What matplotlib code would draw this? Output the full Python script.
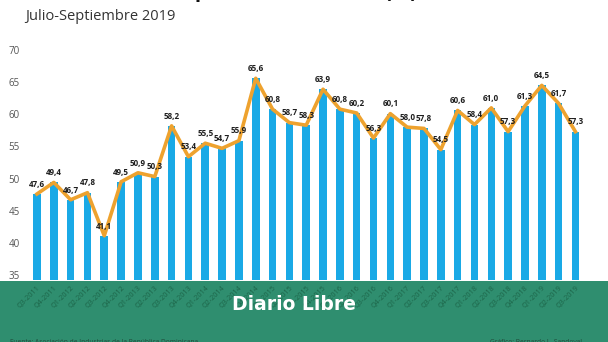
import matplotlib
matplotlib.use("Agg")
import matplotlib.pyplot as plt
from matplotlib.patches import Rectangle

quarters = ["Q3-2011", "Q4-2011", "Q1-2012", "Q2-2012", "Q3-2012", "Q4-2012",
            "Q1-2013", "Q2-2013", "Q3-2013", "Q4-2013", "Q1-2014", "Q2-2014",
            "Q3-2014", "Q4-2014", "Q1-2015", "Q2-2015", "Q3-2015", "Q4-2015",
            "Q1-2016", "Q2-2016", "Q3-2016", "Q4-2016", "Q1-2017", "Q2-2017",
            "Q3-2017", "Q4-2017", "Q1-2018", "Q2-2018", "Q3-2018", "Q4-2018",
            "Q1-2019", "Q2-2019", "Q3-2019"]
values = [47.6, 49.4, 46.7, 47.8, 41.1, 49.5, 50.9, 50.3, 58.2, 53.4, 55.5,
          54.7, 55.9, 65.6, 60.8, 58.7, 58.3, 63.9, 60.8, 60.2, 56.3, 60.1,
          58.0, 57.8, 54.5, 60.6, 58.4, 61.0, 57.3, 61.3, 64.5, 61.7, 57.3]
yticks = [35, 40, 45, 50, 55, 60, 65, 70]

BAR = "#19a9e6"
LINE = "#eea22e"
GREEN = "#2f8e6f"

plt.rcParams['font.family'] = ['Open Sans', 'DejaVu Sans']

W, H = 608, 342
fig = plt.figure(figsize=(W / 100, H / 100), dpi=100)
fig.patch.set_facecolor("white")

# green band
band_top = (H - 281) / H
fig.add_artist(Rectangle((0, 0), 1, band_top, transform=fig.transFigure,
                         facecolor=GREEN, edgecolor="none", zorder=-1))

ax = fig.add_axes([25.2 / W, (H - 280.1) / H, 562 / W, (280.1 - 43.6) / H])
ax.set_facecolor("none")
x = list(range(len(values)))
ax.bar(x, values, width=0.45, color=BAR, zorder=2)
ax.plot(x, values, color=LINE, lw=2.6, solid_joinstyle="round", zorder=3)
for xi, v in zip(x, values):
    ax.annotate(f"{v:.1f}".replace(".", ","), (xi, v), xytext=(0, 7),
                textcoords="offset points", ha="center", va="center",
                fontsize=5.8, fontweight="bold", color="#1e1e1e", zorder=4)

ax.set_xlim(-0.7, 32.7)
ax.set_ylim(34.2, 71)
ax.set_yticks(yticks)
ax.set_yticklabels([str(t) for t in yticks], fontsize=7, color="#555555")
ax.set_xticks(x)
ax.set_xticklabels(quarters, rotation=45, ha="right", rotation_mode="anchor",
                   fontsize=5.2, color="#1d6549")
ax.tick_params(axis="both", length=0)
ax.tick_params(axis="x", pad=3)
ax.tick_params(axis="y", pad=4)
for s in ax.spines.values():
    s.set_visible(False)

# titles (main title is cut off at the top edge, as in the reference)
fig.text(417 / W, 1 + 2.5 / H, "Uso de la capacidad instalada (%)",
         fontsize=15, fontweight="bold", color="#111111", ha="right",
         va="baseline")
fig.text(25 / W, 1 - 16 / H, "Julio-Septiembre 2019", fontsize=10.5,
         color="#333333", ha="left", va="center")

# logo
fig.text(294 / W, 1 - 305 / H, "Diario Libre", fontsize=13.5,
         fontweight="heavy", color="white", ha="center", va="center",
         family="DejaVu Sans", zorder=10)

# footer
fig.text(10 / W, 1 - 339.5 / H,
         "Fuente: Asociación de Industrias de la República Dominicana",
         fontsize=4.8, color="#1f4a3a", ha="left", va="top")
fig.text(582 / W, 1 - 339.5 / H, "Gráfico: Bernardo L. Sandoval",
         fontsize=4.8, color="#1f4a3a", ha="right", va="top")

fig.savefig("out.png", dpi=100)
